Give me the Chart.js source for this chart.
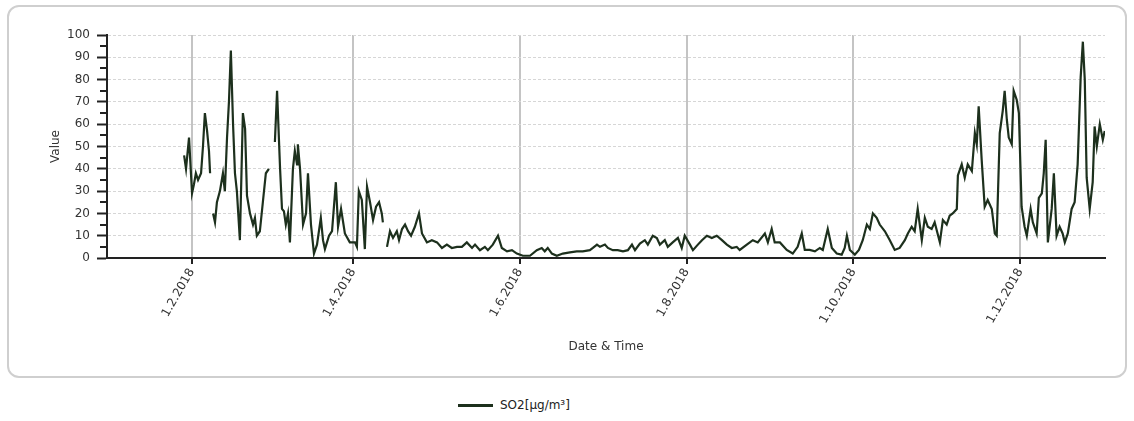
<!DOCTYPE html>
<html>
<head>
<meta charset="utf-8">
<script src="https://cdn.jsdelivr.net/npm/chart.js@4.4.1/dist/chart.umd.min.js"></script>
<style>
    body { margin: 0; background: #fff; font-family: "DejaVu Sans", Verdana, sans-serif; }
    #panel {
        position: absolute; left: 7px; top: 5px;
        width: 1116px; height: 369px;
        border: 2px solid #cfcfcf; border-radius: 12px;
    }
    #so2Chart { display: block; }
    #legend {
        position: absolute; left: 458px; top: 398px;
        display: flex; align-items: center;
        font-size: 12px; color: #222;
    }
    #legend .swatch { width: 35px; height: 3px; background: #1d301d; margin-right: 7px; }
</style>
</head>
<body>
<div id="panel"><canvas id="so2Chart" width="1116" height="369"></canvas></div>
<div id="legend"></div>
<script>
// Day of year 2018 (0 = 1 Jan) for each reading, null values are gaps
const days = [
    28.2, 28.9, 30.0, 31.1, 31.8, 32.5, 33.3, 34.4, 35.1, 35.8, 36.6, 37.3, 37.7, 38.2,
    38.8, 39.5, 40.2, 41.3, 42.4, 43.1, 43.9, 44.6, 45.3, 46.1, 46.8, 47.5, 48.6, 49.7,
    50.5, 51.2, 52.3, 53.4, 54.1, 54.8, 55.9, 57.0, 58.1, 59.2, 60.0,
    61.4, 62.2, 63.3, 64.0, 64.7, 65.4, 66.2, 66.9, 68.0, 68.7, 69.5, 69.8, 70.6, 71.7,
    72.8, 73.5, 74.6, 75.7, 76.8, 78.2, 79.0, 79.7, 81.2, 82.3, 83.7, 84.5, 85.6, 87.0,
    88.8, 90.7, 91.4, 92.1, 93.2, 94.3, 95.1, 96.2, 97.3, 98.4, 99.5, 100.5, 100.9, 102.0,
    102.4, 103.5, 104.6, 106.0, 106.8, 107.9, 109.0, 110.1, 111.2, 112.6, 114.1, 115.2,
    117.0, 118.8, 120.7, 122.5, 124.3, 126.1, 128.0, 129.8, 131.6, 133.5, 134.6, 136.4,
    138.2, 139.3, 141.1, 143.0, 144.4, 146.3, 148.1, 149.9, 152.1, 154.7, 157.2, 159.0,
    160.1, 161.2, 162.7, 164.5, 166.7, 169.3, 171.8, 174.0, 176.6, 177.7, 179.2, 180.3,
    182.1, 183.2, 185.0, 186.8, 188.7, 190.5, 192.0, 193.1, 194.9, 196.7, 197.8, 199.6,
    201.1, 202.2, 204.0, 205.1, 206.9, 208.8, 210.2, 211.3, 213.2, 214.3, 216.1, 217.6,
    219.4, 221.2, 223.0, 224.9, 226.7, 228.5, 230.3, 231.4, 234.0, 236.2, 238.0, 240.6,
    241.7, 243.1, 244.2, 246.1, 248.6, 250.8, 252.6, 254.1, 255.2, 257.0, 258.9, 260.7,
    261.8, 263.6, 265.1, 266.9, 268.7, 269.8, 270.6, 271.7, 273.5, 275.0, 276.4, 277.9,
    279.0, 280.1, 281.5, 282.6, 284.5, 286.3, 288.1, 289.9, 291.8, 292.9, 294.3, 295.4,
    296.5, 298.0, 299.1, 300.2, 301.6, 302.7, 304.6, 305.7, 307.1, 308.2, 309.3, 310.8,
    311.2, 312.6, 313.7, 314.8, 316.3, 317.4, 318.1, 318.8, 319.9, 321.0, 322.1, 323.6,
    324.7, 325.4, 326.5, 327.6, 328.3, 329.1, 329.8, 330.9, 331.6, 332.7, 333.5, 334.5,
    335.6, 336.4, 337.8, 338.6, 340.0, 340.8, 341.9, 342.6, 343.3, 344.1, 345.5, 346.3,
    347.3, 348.4, 349.5, 350.3, 351.4, 352.8, 353.9, 355.0, 356.1, 356.9, 357.6, 358.3,
    359.4, 360.5, 361.2, 362.0, 363.1, 364.2, 364.9
];

const so2 = [
    46, 40, 54, 29, 33, 38, 35, 38, 50, 65, 57, 48, 38, null,
    20, 16, 25, 30, 38, 30, 54, 70, 93, 60, 38, 30, 8, 65,
    58, 28, 20, 15, 18, 10, 12, 25, 38, 40, null,
    52, 75, 40, 22, 21, 15, 20, 7, 40, 48, 42, 51, 40, 15,
    20, 38, 15, 2, 6, 18, 8, 4, 10, 12, 34, 14, 22, 11,
    7, 7, 5, 30, 26, 4, 32, 25, 17, 23, 25, 20, 16, null,
    5, 12, 9, 12, 8, 13, 15, 12, 10, 14, 20, 11,
    7, 8, 7, 4.5, 6, 4.5, 5, 5, 7, 4.5, 6, 3.5,
    5, 3.5, 6, 10, 4.5, 3, 3.5, 2, 1, 1, 3.5, 4.5,
    3, 4.5, 2, 1, 2, 2.5, 3, 3, 3.5, 4.5, 6, 5,
    6, 4.5, 3.5, 3.5, 3, 3.5, 6, 3.5, 6.5, 8, 6, 10,
    9, 6, 8, 5, 7, 9, 4.5, 10, 6, 3.5, 6, 8,
    10, 9, 10, 8, 6, 4.5, 5, 3.6, 6, 8, 7, 11,
    7, 13, 7, 7, 3.6, 2, 5, 11, 3.6, 3.6, 3, 4.5,
    3.6, 13, 4.5, 2, 1.5, 4.5, 10, 3.6, 1.5, 3.6, 8, 15,
    13, 20, 18, 15, 12, 8, 3.6, 4.5, 8, 11, 14, 12,
    22, 8, 18, 14, 13, 16, 7, 17, 15, 19, 20, 22,
    37, 42, 36, 42, 39, 56, 51, 68, 44, 23, 26, 22,
    11, 10, 56, 66, 75, 62, 54, 51, 75, 71, 65, 23,
    14, 10, 22, 16, 11, 27, 29, 38, 53, 7, 22, 38,
    10, 14, 11, 7, 11, 22, 25, 42, 81, 97, 80, 36,
    22, 34, 59, 50, 60, 53, 57
];

// Tick positions (day of year) and their labels
const tickDays = [31, 90, 151, 212, 273, 334];
const tickLabels = ['1.2.2018', '1.4.2018', '1.6.2018', '1.8.2018', '1.10.2018', '1.12.2018'];

const seriesLabel = 'SO2[µg/m³]';
const axisFont = { family: '"DejaVu Sans", Verdana, sans-serif', size: 12 };

// short minor ticks on the value axis, every 5 between the labelled ones
const minorTicks = {
    id: 'minorTicks',
    afterDraw(chart) {
        const y = chart.scales.y;
        const ctx = chart.ctx;
        ctx.save();
        ctx.strokeStyle = '#222';
        ctx.lineWidth = 2;
        for (let v = 5; v < 100; v += 10) {
            const py = Math.round(y.getPixelForValue(v));
            ctx.beginPath();
            ctx.moveTo(y.right - 7, py);
            ctx.lineTo(y.right, py);
            ctx.stroke();
        }
        ctx.restore();
    }
};

const ctx = document.getElementById('so2Chart').getContext('2d');
const so2Chart = new Chart(ctx, {
    type: 'line',
    data: {
        datasets: [{
            label: seriesLabel,
            data: days.map((d, i) => ({ x: d, y: so2[i] })),
            borderColor: '#1d301d',
            borderWidth: 2.2,
            pointRadius: 0,
            tension: 0,
            spanGaps: false,
            fill: false
        }]
    },
    options: {
        responsive: false,
        animation: false,
        layout: { padding: { top: 28, right: 20, left: 0, bottom: 0 } },
        plugins: {
            legend: { display: false },
            tooltip: { enabled: false }
        },
        scales: {
            x: {
                type: 'linear',
                min: 0,
                max: 365,
                afterBuildTicks: scale => {
                    scale.ticks = tickDays.map(v => ({ value: v }));
                },
                afterFit: scale => { scale.height = 118; },
                ticks: {
                    autoSkip: false,
                    minRotation: 60,
                    maxRotation: 60,
                    padding: 2,
                    color: '#333',
                    font: axisFont,
                    callback: value => tickLabels[tickDays.indexOf(value)]
                },
                grid: {
                    color: '#c4c4c4',
                    lineWidth: 2,
                    tickColor: '#222',
                    tickLength: 6,
                    tickWidth: 2
                },
                border: { color: '#222', width: 2 },
                title: {
                    display: true,
                    text: 'Date & Time',
                    color: '#333',
                    font: axisFont,
                    padding: { top: 0, bottom: 22 }
                }
            },
            y: {
                min: 0,
                max: 100,
                afterFit: scale => { scale.width = 98; },
                ticks: {
                    stepSize: 10,
                    padding: 7,
                    color: '#333',
                    font: axisFont
                },
                grid: {
                    color: ctx => ctx.tick && ctx.tick.value === 0 ? 'rgba(0,0,0,0)' : '#d6d6d6',
                    lineWidth: 1,
                    tickColor: '#222',
                    tickLength: 10,
                    tickWidth: 2
                },
                border: { color: '#222', width: 2, dash: [3, 2] },
                title: {
                    display: true,
                    text: 'Value',
                    color: '#333',
                    font: axisFont,
                    padding: { top: 40, bottom: 0 }
                }
            }
        }
    },
    plugins: [minorTicks]
});

// legend outside the bordered panel
const legend = document.getElementById('legend');
so2Chart.data.datasets.forEach(ds => {
    legend.innerHTML += '<div class="swatch"></div><span>' + ds.label + '</span>';
});
</script>
</body>
</html>
